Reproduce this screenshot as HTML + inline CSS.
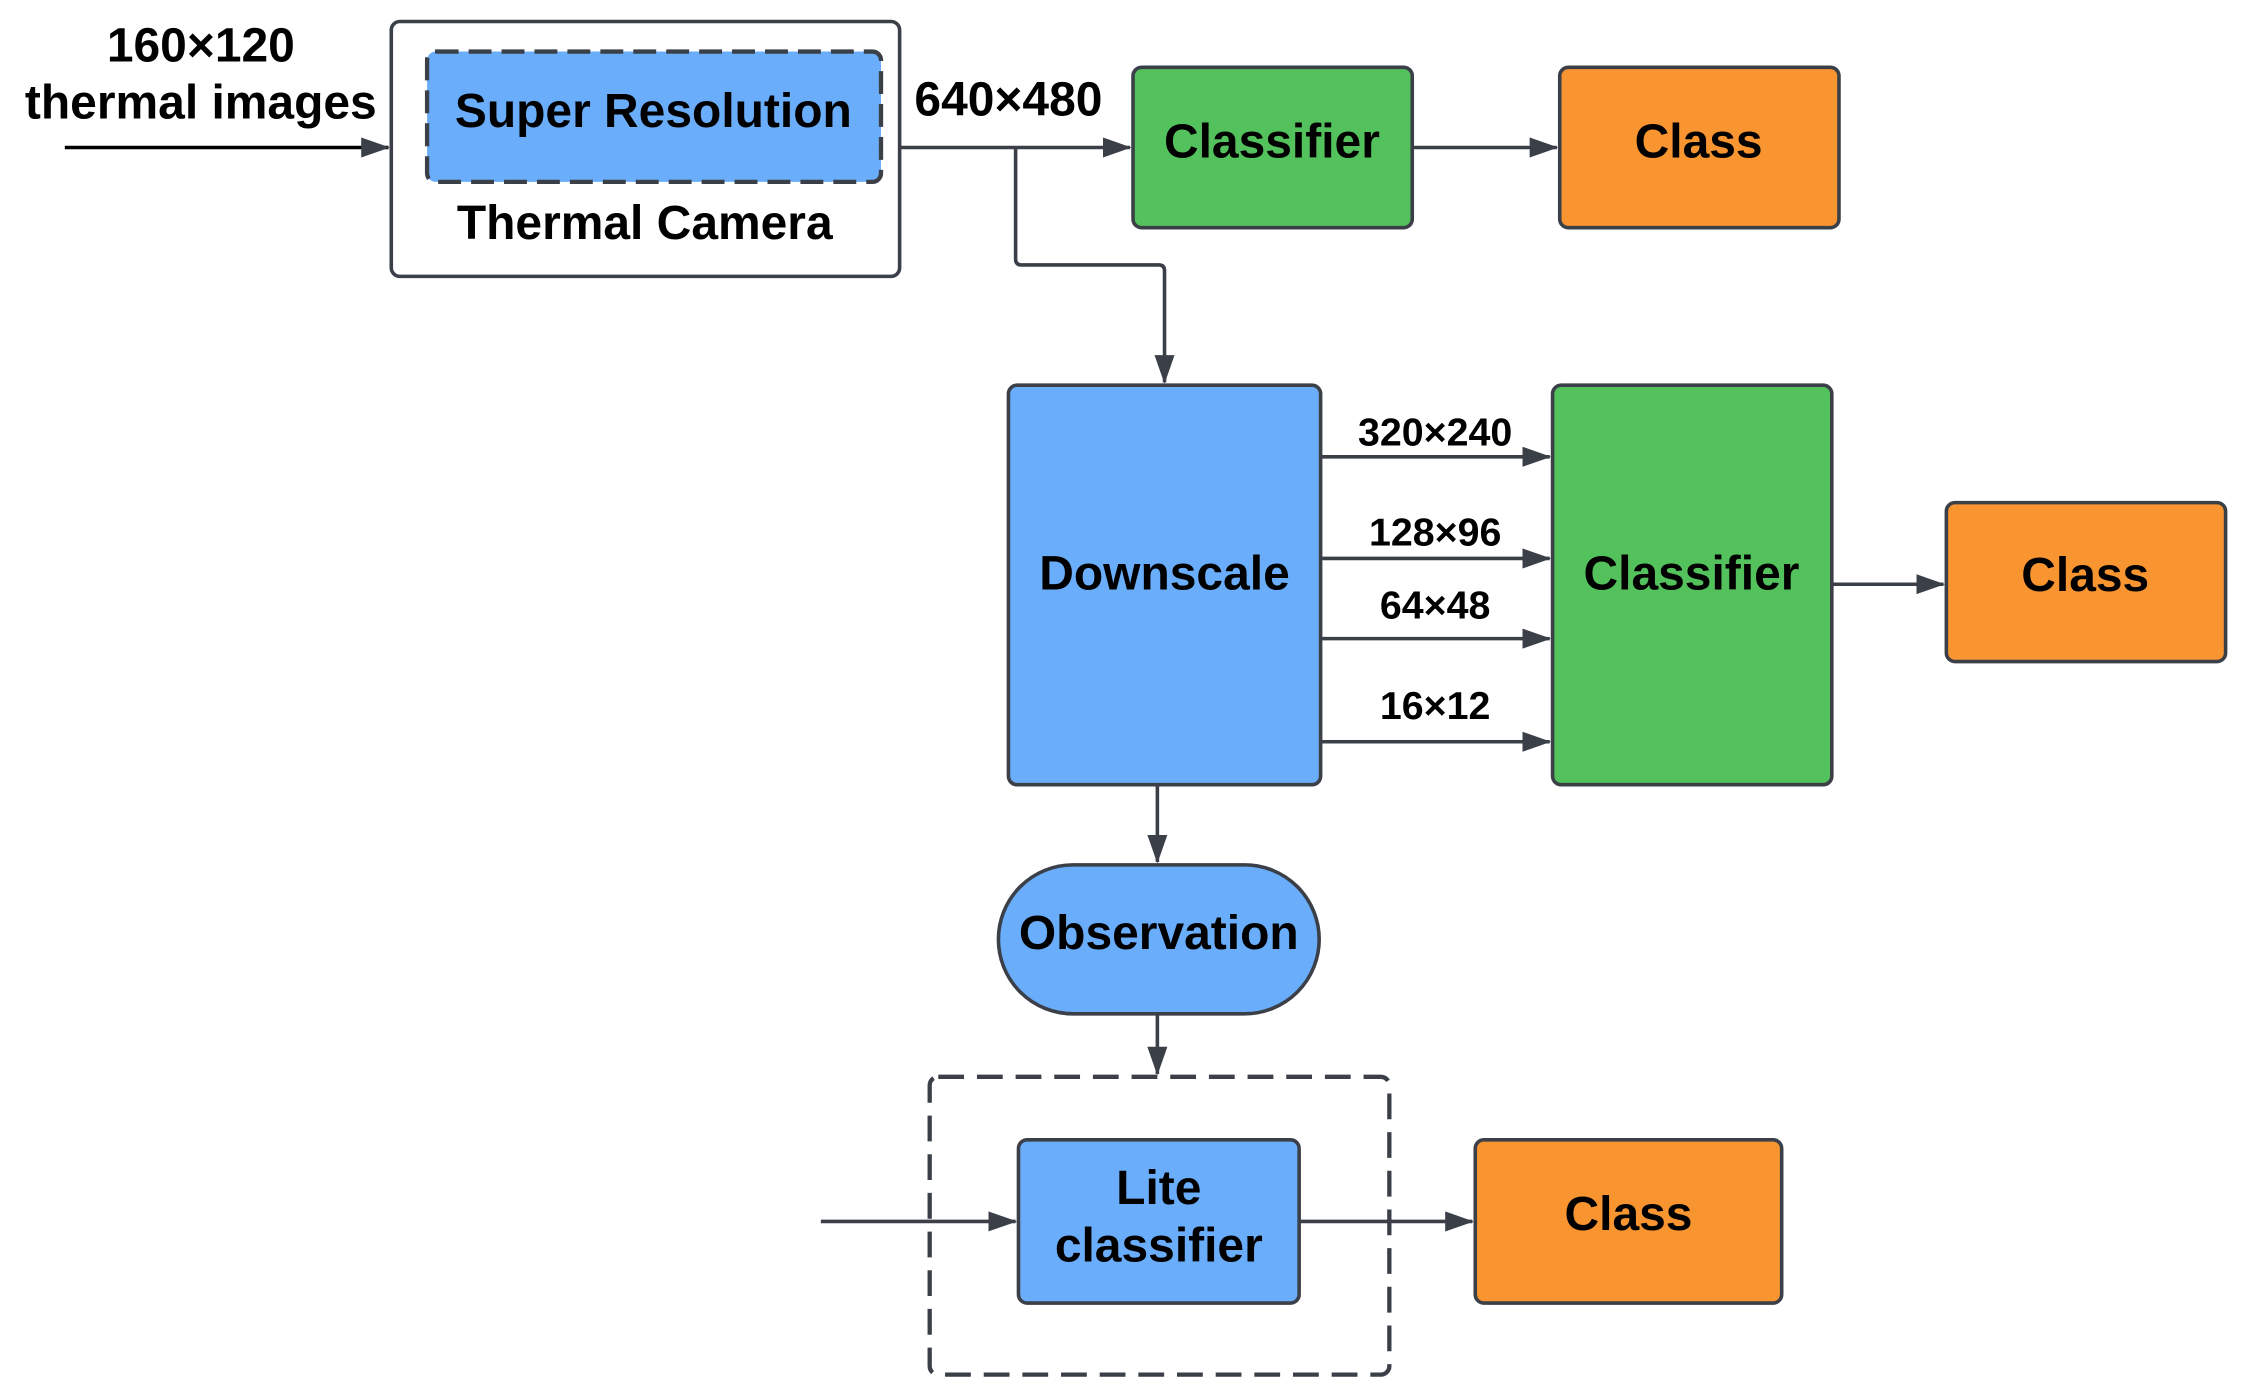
<!DOCTYPE html>
<html><head><meta charset="utf-8"><style>
html,body{margin:0;padding:0;background:#fff;}
svg{display:block;}
text{font-family:"Liberation Sans",Arial,sans-serif;font-weight:bold;fill:#000;text-anchor:middle;dominant-baseline:central;}
</style></head><body>
<svg width="2246" height="1399" viewBox="0 0 1568 977" xmlns="http://www.w3.org/2000/svg">
<defs>
<marker id="b" markerWidth="20" markerHeight="14" refX="19" refY="7" orient="auto" markerUnits="userSpaceOnUse" viewBox="0 0 20 14">
<path d="M0,0 L20,7 L0,14 z" fill="#3a3f48"/></marker>
</defs>
<g stroke="#3a3f48" stroke-width="2.5" fill="none">
<rect x="273" y="15" width="355" height="178" rx="6" fill="#fff"/>
<rect x="298" y="36" width="317" height="91" rx="6" fill="#6aaefb" stroke-width="3" stroke-dasharray="16,7"/>
<line x1="45" y1="103" x2="271" y2="103" stroke="#000" marker-end="url(#b)"/>
<line x1="628" y1="103" x2="789" y2="103" marker-end="url(#b)"/>
<rect x="791" y="47" width="195" height="112" rx="6" fill="#54c25c"/>
<line x1="986" y1="103" x2="1087" y2="103" marker-end="url(#b)"/>
<rect x="1089" y="47" width="195" height="112" rx="6" fill="#f89530"/>
<path d="M709,103 V181 Q709,185 713,185 H809 Q813,185 813,189 V267" marker-end="url(#b)"/>
<rect x="704" y="269" width="218" height="279" rx="6" fill="#6aaefb"/>
<line x1="922" y1="319" x2="1082" y2="319" marker-end="url(#b)"/>
<line x1="922" y1="390" x2="1082" y2="390" marker-end="url(#b)"/>
<line x1="922" y1="446" x2="1082" y2="446" marker-end="url(#b)"/>
<line x1="922" y1="518" x2="1082" y2="518" marker-end="url(#b)"/>
<rect x="1084" y="269" width="195" height="279" rx="6" fill="#54c25c"/>
<line x1="1279" y1="408" x2="1357" y2="408" marker-end="url(#b)"/>
<rect x="1359" y="351" width="195" height="111" rx="6" fill="#f89530"/>
<line x1="808" y1="548" x2="808" y2="602" marker-end="url(#b)"/>
<rect x="697" y="604" width="224" height="104" rx="52" fill="#6aaefb"/>
<line x1="808" y1="708" x2="808" y2="750" marker-end="url(#b)"/>
<rect x="649" y="752" width="321" height="208" rx="6" stroke-width="3" stroke-dasharray="18,9"/>
<line x1="573" y1="853" x2="709" y2="853" marker-end="url(#b)"/>
<rect x="711" y="796" width="196" height="114" rx="6" fill="#6aaefb"/>
<line x1="907" y1="853" x2="1028" y2="853" marker-end="url(#b)"/>
<rect x="1030" y="796" width="214" height="114" rx="6" fill="#f89530"/>
</g>
<g font-size="33.5">
<text x="140" y="32">160×120</text>
<text x="140" y="72">thermal images</text>
<text x="456" y="78">Super Resolution</text>
<text x="450" y="156">Thermal Camera</text>
<text x="704" y="70">640×480</text>
<text x="888" y="99">Classifier</text>
<text x="1186" y="99">Class</text>
<text x="813" y="401">Downscale</text>
<text x="1181" y="401">Classifier</text>
<text x="1456" y="402">Class</text>
<text x="809" y="652">Observation</text>
<text x="809" y="830">Lite</text>
<text x="809" y="870">classifier</text>
<text x="1137" y="848">Class</text>
</g>
<g font-size="27.5">
<text x="1002" y="302">320×240</text>
<text x="1002" y="372">128×96</text>
<text x="1002" y="423">64×48</text>
<text x="1002" y="493">16×12</text>
</g>
</svg>
</body></html>
